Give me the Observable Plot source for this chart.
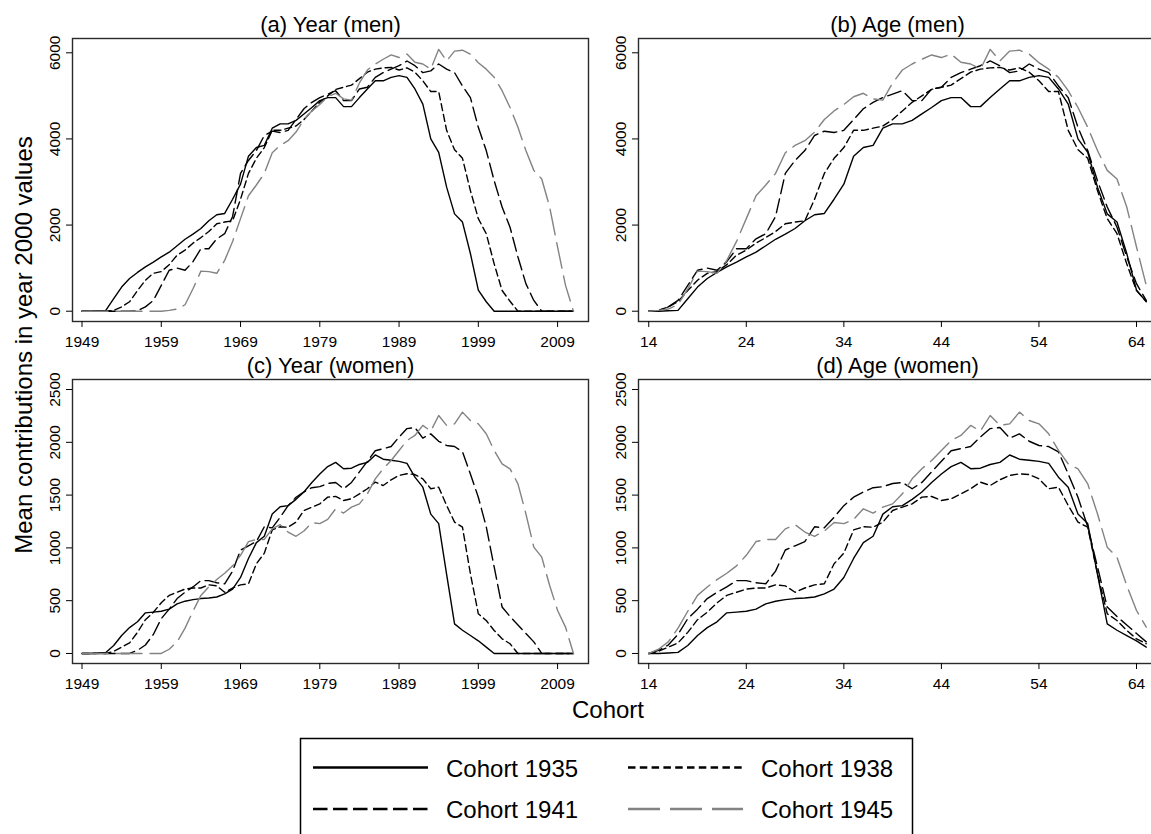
<!DOCTYPE html>
<html><head><meta charset="utf-8">
<script src="https://cdn.jsdelivr.net/npm/d3@7"></script>
<script src="https://cdn.jsdelivr.net/npm/@observablehq/plot@0.6"></script>
<style>
html,body{margin:0;padding:0;background:#fff;overflow:hidden;}
#root{position:relative;width:1151px;height:834px;overflow:hidden;font-family:"Liberation Sans",Arial,sans-serif;}
#root > svg{position:absolute;}
</style></head><body><div id="root"></div>
<script>
// ---------- data ----------
const cohortLabels = ["Cohort 1935", "Cohort 1938", "Cohort 1941", "Cohort 1945"];
const cohortYears = [1935, 1938, 1941, 1945];
const ages = [14,15,16,17,18,19,20,21,22,23,24,25,26,27,28,29,30,31,32,33,34,35,36,37,38,39,
  40,41,42,43,44,45,46,47,48,49,50,51,52,53,54,55,56,57,58,59,60,61,62,63,64,65];
const years = [1949,1950,1951,1952,1953,1954,1955,1956,1957,1958,1959,1960,1961,1962,1963,1964,
  1965,1966,1967,1968,1969,1970,1971,1972,1973,1974,1975,1976,1977,1978,1979,1980,1981,1982,
  1983,1984,1985,1986,1987,1988,1989,1990,1991,1992,1993,1994,1995,1996,1997,1998,1999,2000,
  2001,2002,2003,2004,2005,2006,2007,2008,2009,2010,2011];
const yearTicks = [1949, 1959, 1969, 1979, 1989, 1999, 2009];
const ageTicks = [14, 24, 34, 44, 54, 64];
const menTicks = [0, 2000, 4000, 6000];
const womenTicks = [0, 500, 1000, 1500, 2000, 2500];

// men, mean contributions by age (14..65)
const men1935 = [0,0,10,20,290,560,760,900,1030,1140, 1260,1370,1520,1670,1790,1920,2100,2240,2270,2600,
  2950,3600,3800,3850,4250,4350,4350,4430,4580,4730, 4890,4960,4960,4750,4750,4960,5160,5350,5350,5430,
  5470,5430,5160,4810,4000,3690,2880,2260,2070,1340, 490,220];
const men1938 = [0,20,100,220,480,720,880,920,1080,1300, 1420,1580,1710,1850,2030,2070,2100,2600,3200,3550,
  3800,4200,4200,4250,4300,4450,4650,4850,5000,5150, 5200,5250,5400,5550,5620,5650,5660,5600,5650,5550,
  5350,5100,5100,4200,3750,3550,2800,2150,1800,1100, 480,230];
const men1941 = [0,10,100,250,600,950,1000,950,1150,1450, 1450,1680,1800,2200,3200,3500,3730,4080,4180,4150,
  4200,4450,4700,4850,4960,5040,5120,4890,4890,5160, 5200,5430,5540,5620,5700,5810,5700,5540,5580,5740,
  5620,5540,5230,4960,4270,3730,3030,2420,1950,1260, 640,250];
const men1945 = [0,20,50,150,520,930,920,880,1180,1620, 2150,2680,2930,3200,3680,3850,3960,4160,4450,4650,
  4800,4980,5060,4930,4900,5300,5600,5740,5850,5950, 5890,5970,5780,5740,5620,6080,5810,6040,6060,5970,
  5770,5620,5430,5120,4730,4270,3730,3270,3070,2420, 1490,600];
// women, mean contributions by age (14..65)
const women1935 = [0,0,5,10,75,170,245,300,385,392, 400,420,470,495,510,520,525,535,565,610,
  720,900,1050,1110,1320,1390,1400,1460,1530,1620, 1700,1770,1810,1750,1755,1790,1810,1880,1840,1830,
  1820,1800,1670,1575,1320,1230,750,280,220,170, 120,60];
const women1938 = [0,20,60,100,200,320,390,480,550,580, 610,620,620,650,640,580,620,650,660,850,
  950,1170,1200,1196,1244,1354,1386,1417,1481,1487, 1449,1465,1512,1560,1623,1591,1645,1686,1702,1695,
  1654,1560,1575,1402,1244,1196,755,376,312,218, 139,92];
const women1941 = [0,30,80,180,330,420,520,580,630,690, 690,670,660,780,980,1020,1060,1200,1190,1290,
  1400,1480,1530,1570,1580,1610,1620,1560,1620,1720, 1820,1920,1940,1960,2050,2130,2140,2040,2080,2010,
  1970,1960,1910,1700,1480,1200,820,440,350,270, 190,110];
const women1945 = [0,40,110,240,400,550,630,700,760,830, 930,1060,1080,1080,1180,1220,1150,1110,1160,1240,
  1230,1270,1370,1330,1386,1417,1512,1654,1749,1828, 1923,2017,2065,2160,2106,2254,2160,2175,2286,2207,
  2175,2081,1923,1796,1749,1607,1323,1007,912,644, 407,250];

const menSeries = [men1935, men1938, men1941, men1945];
const womenSeries = [women1935, women1938, women1941, women1945];

// ---------- styles ----------
const colors = ["#000", "#000", "#000", "#838383"];
const dashes = [null, "7,4", "14,5.5", "26,8"];
const legendDashes = [null, "7.5,4.3", "14.5,5.5", "32,10"];
const FONT = '"Liberation Sans", Arial, Helvetica, sans-serif';

// tables
function byAge(series) {
  const rows = [];
  series.forEach((arr, i) => ages.forEach((a, j) => rows.push({cohort: cohortLabels[i], x: a, v: arr[j]})));
  return rows;
}
function byYear(series) {
  // same observations indexed by calendar year (year = cohort + age); 0 outside the ages observed
  const rows = [];
  series.forEach((arr, i) => years.forEach(y => {
    const j = ages.indexOf(y - cohortYears[i]);
    rows.push({cohort: cohortLabels[i], x: y, v: j >= 0 ? arr[j] : 0});
  }));
  return rows;
}

function panel({data, title, xDomain, yDomain, xTicks, yTicks, left, top, ml, fw, fh}) {
  const mt = 38, mb = 32, mr = 10;
  const marks = [
    Plot.frame({stroke: "#2a2a2a", strokeWidth: 1.4}),
    Plot.axisX({ticks: xTicks, tickSize: 6, tickPadding: 8, tickFormat: d => String(d), label: null,
      fontSize: 15.5}),
    Plot.axisY({ticks: yTicks, tickSize: 6, tickPadding: 7, tickRotate: -90, textAnchor: "middle",
      lineAnchor: "bottom", tickFormat: d => String(d), label: null, fontSize: 15.5}),
  ];
  cohortLabels.forEach((c, i) => {
    marks.push(Plot.line(data.filter(d => d.cohort === c), {
      x: "x", y: "v", stroke: colors[i], strokeWidth: 1.4,
      strokeDasharray: dashes[i] || undefined, strokeLinejoin: "round"
    }));
  });
  marks.push(Plot.text([title], {text: d => d, frameAnchor: "top", dy: -7, lineAnchor: "bottom",
    fontSize: 22, fill: "#000"}));
  const svg = Plot.plot({
    width: ml + fw + mr, height: mt + fh + mb,
    marginLeft: ml, marginRight: mr, marginTop: mt, marginBottom: mb,
    style: {background: "transparent", fontFamily: FONT, fontSize: "15.5px", color: "#000", overflow: "visible"},
    x: {domain: xDomain},
    y: {domain: yDomain},
    marks
  });
  svg.style.position = "absolute";
  svg.style.left = left + "px";
  svg.style.top = top + "px";
  svg.style.maxWidth = "none";
  return svg;
}

const root = document.getElementById("root");
const menY = [-239, 6332];
const womenY = [-95, 2595];
const yearX = [1947.8, 2012.9];
const ageX = [12.95, 66.05];

root.appendChild(panel({data: byYear(menSeries), title: "(a) Year (men)", xDomain: yearX, yDomain: menY,
  xTicks: yearTicks, yTicks: menTicks, left: 0, top: 0, ml: 72, fw: 516, fh: 283}));
root.appendChild(panel({data: byAge(menSeries), title: "(b) Age (men)", xDomain: ageX, yDomain: menY,
  xTicks: ageTicks, yTicks: menTicks, left: 590, top: 0, ml: 48, fw: 518, fh: 283}));
root.appendChild(panel({data: byYear(womenSeries), title: "(c) Year (women)", xDomain: yearX, yDomain: womenY,
  xTicks: yearTicks, yTicks: womenTicks, left: 0, top: 341, ml: 72, fw: 516, fh: 284}));
root.appendChild(panel({data: byAge(womenSeries), title: "(d) Age (women)", xDomain: ageX, yDomain: womenY,
  xTicks: ageTicks, yTicks: womenTicks, left: 590, top: 341, ml: 48, fw: 518, fh: 284}));

// ---------- titles and legend ----------
const NS = "http://www.w3.org/2000/svg";
const over = document.createElementNS(NS, "svg");
over.setAttribute("width", 1151); over.setAttribute("height", 834);
over.style.left = "0px"; over.style.top = "0px";
over.setAttribute("font-family", FONT);
function el(tag, attrs, text) {
  const e = document.createElementNS(NS, tag);
  for (const k in attrs) e.setAttribute(k, attrs[k]);
  if (text != null) e.textContent = text;
  over.appendChild(e); return e;
}
el("text", {transform: "translate(32,345) rotate(-90)", "text-anchor": "middle", "font-size": 24, fill: "#000"},
  "Mean contributions in year 2000 values");
el("text", {x: 608, y: 718, "text-anchor": "middle", "font-size": 24, fill: "#000"}, "Cohort");
el("rect", {x: 300.5, y: 738.5, width: 612, height: 120, fill: "none", stroke: "#000", "stroke-width": 1.5});
const colX = [313, 628], rowY = [767.5, 809];
cohortLabels.forEach((c, i) => {
  const cx = colX[i % 2], cy = rowY[Math.floor(i / 2)];
  const a = {x1: cx, x2: cx + 115, y1: cy, y2: cy, stroke: colors[i], "stroke-width": 2.6};
  if (legendDashes[i]) a["stroke-dasharray"] = legendDashes[i];
  el("line", a);
  el("text", {x: cx + 133, y: cy + 9, "font-size": 24, fill: "#000"}, c);
});
root.insertBefore(over, root.firstChild);
</script>
</body></html>
